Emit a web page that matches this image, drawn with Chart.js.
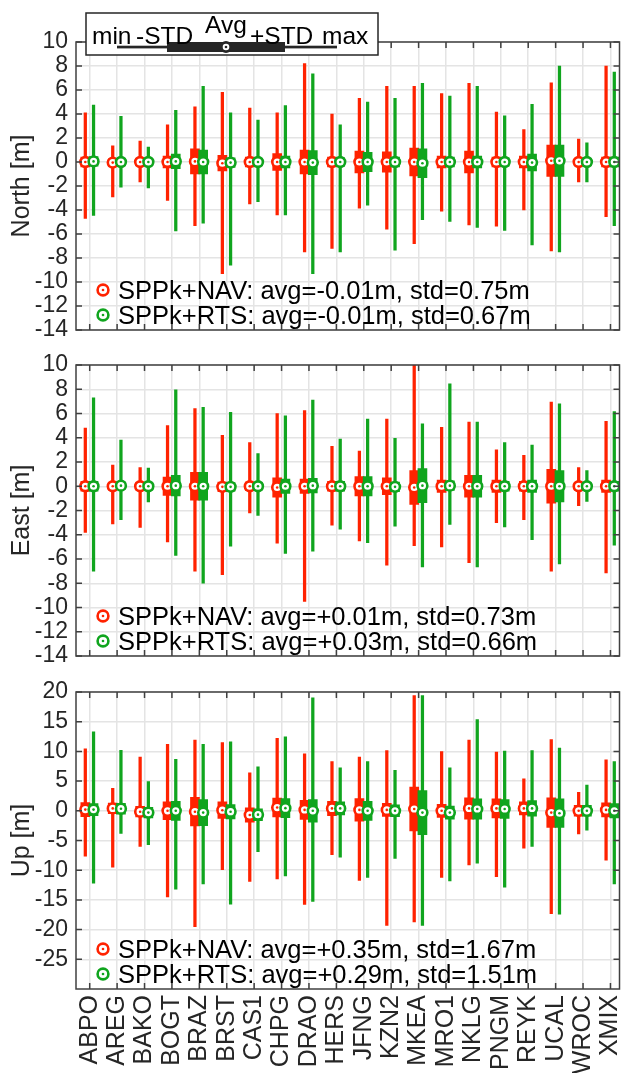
<!DOCTYPE html>
<html>
<head>
<meta charset="utf-8">
<script src="https://cdn.jsdelivr.net/npm/chart.js@4/dist/chart.umd.min.js"></script>
<style>
  html, body { margin: 0; padding: 0; background: #fff; width: 627px; height: 1073px; overflow: hidden; }
  canvas { position: absolute; left: 0; }
</style>
</head>
<body>
<canvas id="north" width="627" height="350" style="top:0px"></canvas>
<canvas id="east" width="627" height="331" style="top:345px"></canvas>
<canvas id="up" width="627" height="401" style="top:672px"></canvas>
<script>
// stations along the x axis
var stations = ['ABPO', 'AREG', 'BAKO', 'BOGT', 'BRAZ', 'BRST', 'CAS1', 'CHPG', 'DRAO', 'HERS',
                'JFNG', 'KZN2', 'MKEA', 'MRO1', 'NKLG', 'PNGM', 'REYK', 'UCAL', 'WROC', 'XMIX'];

// North [m]
var northNavMin = [-4.7, -2.9, -1.65, -3.2, -5.3, -9.3, -3.5, -4.4, -7.5, -7.2, -3.85, -5.6, -6.8, -4.1, -5.25, -5.35, -4.0, -7.4, -1.65, -4.55];
var northNavMax = [4.1, 1.35, 1.75, 3.1, 4.6, 5.8, 4.5, 4.1, 8.2, 4.0, 5.3, 6.3, 6.3, 5.7, 6.55, 4.15, 2.7, 6.6, 1.9, 8.0];
var northNavAvg = [0, -0.05, 0, 0, 0.05, -0.1, 0, 0, 0, 0, 0, 0, 0, 0, 0, 0, 0, 0.1, 0, 0];
var northNavStd = [0.4, 0.3, 0.3, 0.5, 1.05, 0.65, 0.4, 0.7, 1.0, 0.4, 0.9, 0.85, 1.15, 0.5, 0.9, 0.4, 0.5, 1.3, 0.3, 0.4];
var northRtsMin = [-4.45, -2.1, -2.15, -5.75, -5.1, -8.6, -3.3, -4.4, -9.3, -7.5, -3.6, -7.35, -4.8, -4.95, -5.45, -5.7, -6.9, -7.5, -1.65, -5.3];
var northRtsMax = [4.75, 3.8, 1.25, 4.3, 6.3, 4.1, 3.5, 4.7, 7.35, 3.1, 5.0, 5.3, 6.55, 5.5, 6.3, 3.85, 4.8, 8.0, 1.6, 7.5];
var northRtsAvg = [0.05, 0, 0, 0.05, 0, -0.05, 0, 0, -0.05, 0, 0, 0, -0.1, 0, 0, 0, -0.05, 0.1, 0, 0];
var northRtsStd = [0.4, 0.3, 0.3, 0.6, 1.0, 0.4, 0.3, 0.5, 1.0, 0.35, 0.8, 0.4, 1.2, 0.4, 0.5, 0.35, 0.7, 1.3, 0.3, 0.4];

// East [m]
var eastNavMin = [-3.8, -3.1, -3.4, -4.6, -7.0, -7.3, -2.2, -4.7, -9.5, -3.2, -4.5, -6.5, -4.9, -5.0, -6.3, -3.0, -2.75, -7.0, -1.6, -7.15];
var eastNavMax = [4.8, 1.75, 1.55, 5.0, 6.4, 4.2, 3.6, 6.0, 6.25, 3.3, 2.9, 5.55, 10.0, 4.85, 5.3, 3.0, 2.55, 6.95, 1.55, 5.35];
var eastNavAvg = [0, 0, 0, 0, 0, -0.05, 0, -0.1, 0, 0, 0, 0, -0.1, 0, 0, 0, 0, 0, 0, 0];
var eastNavStd = [0.4, 0.3, 0.3, 0.75, 1.15, 0.4, 0.35, 0.8, 0.6, 0.4, 0.8, 0.7, 1.4, 0.5, 0.9, 0.5, 0.4, 1.4, 0.3, 0.5];
var eastRtsMin = [-7.0, -2.75, -1.3, -5.7, -8.0, -4.95, -2.4, -5.55, -5.35, -3.55, -4.65, -3.3, -6.65, -3.15, -6.65, -3.35, -4.4, -6.4, -1.25, -4.85];
var eastRtsMax = [7.3, 3.8, 1.5, 7.95, 6.5, 6.1, 2.7, 5.8, 7.1, 3.9, 5.55, 3.95, 5.15, 8.45, 5.3, 3.6, 3.4, 6.8, 1.3, 6.15];
var eastRtsAvg = [0, 0.05, 0, 0.05, 0, -0.05, 0, 0, 0.05, 0, 0, -0.05, 0.05, 0.05, 0, 0, 0, 0, 0, 0];
var eastRtsStd = [0.4, 0.3, 0.3, 0.85, 1.15, 0.35, 0.3, 0.6, 0.6, 0.4, 0.8, 0.4, 1.4, 0.4, 0.9, 0.4, 0.5, 1.3, 0.3, 0.4];

// Up [m]
var upNavMin = [-7.65, -9.5, -6.0, -14.5, -19.5, -9.9, -11.9, -11.45, -15.75, -7.4, -11.7, -19.3, -18.7, -11.2, -9.1, -11.1, -6.3, -17.3, -3.9, -8.3];
var upNavMax = [10.45, 3.8, 9.05, 11.2, 11.9, 11.5, 6.4, 12.2, 9.6, 8.3, 9.05, 10.15, 19.4, 9.95, 11.9, 9.9, 5.4, 12.0, 3.1, 8.6];
var upNavAvg = [0.2, 0.4, -0.15, 0, -0.15, 0.1, -0.7, 0.55, 0.15, 0.4, 0.15, 0.15, 0.3, 0, 0.4, 0.4, 0.4, -0.3, 0, 0.15];
var upNavStd = [1.2, 0.9, 0.9, 1.5, 2.4, 1.4, 1.2, 1.6, 1.6, 1.2, 1.9, 1.1, 3.7, 1.1, 1.8, 1.6, 1.1, 2.5, 0.9, 1.2];
var upRtsMin = [-12.2, -3.8, -5.7, -13.2, -12.3, -15.7, -6.9, -10.95, -15.25, -7.8, -11.2, -8.0, -19.3, -11.8, -8.8, -12.85, -6.0, -17.4, -3.25, -12.3];
var upRtsMax = [13.3, 10.2, 4.9, 8.65, 11.2, 11.6, 7.4, 12.45, 19.0, 7.25, 8.3, 6.8, 19.4, 7.25, 15.35, 10.05, 10.15, 10.55, 4.35, 8.3];
var upRtsAvg = [0.2, 0.35, -0.3, 0, -0.3, -0.15, -0.65, 0.45, 0, 0.4, 0, 0, -0.3, -0.3, 0.3, 0.3, 0.4, -0.4, 0, 0];
var upRtsStd = [1.0, 0.9, 0.9, 1.6, 2.2, 1.2, 1.0, 1.6, 1.9, 1.1, 1.6, 1.0, 3.7, 1.1, 1.7, 1.6, 1.3, 2.4, 0.9, 1.2];

// y tick values
var enTicks = [-14, -12, -10, -8, -6, -4, -2, 0, 2, 4, 6, 8, 10];
var upTicks = [-25, -20, -15, -10, -5, 0, 5, 10, 15, 20];

// overall statistics shown in each panel
var northSummary = ['SPPk+NAV: avg=-0.01m, std=0.75m', 'SPPk+RTS: avg=-0.01m, std=0.67m'];
var eastSummary = ['SPPk+NAV: avg=+0.01m, std=0.73m', 'SPPk+RTS: avg=+0.03m, std=0.66m'];
var upSummary = ['SPPk+NAV: avg=+0.35m, std=1.67m', 'SPPk+RTS: avg=+0.29m, std=1.51m'];

var RED = '#ff2200';
var GREEN = '#10a51e';
var INK = '#262626';
var FONT = "'Liberation Sans', Arial, sans-serif";
var X_MIN = 0.5, X_MAX = 20.33;

Chart.defaults.font.family = FONT;
Chart.defaults.color = INK;

function marker(ctx, x, y, color, r) {
    ctx.beginPath();
    ctx.arc(x, y, r, 0, 2 * Math.PI);
    ctx.fillStyle = '#fff';
    ctx.fill();
    ctx.lineWidth = 2.6;
    ctx.strokeStyle = color;
    ctx.stroke();
    ctx.beginPath();
    ctx.arc(x, y, 1.3, 0, 2 * Math.PI);
    ctx.fillStyle = color;
    ctx.fill();
}

// the "min -STD Avg +STD max" key above the first panel
function drawKey(ctx) {
    ctx.fillStyle = '#fff';
    ctx.fillRect(86, 13, 292, 42);
    ctx.strokeStyle = INK;
    ctx.lineWidth = 1.5;
    ctx.strokeRect(86, 13, 292, 42);
    ctx.fillStyle = INK;
    ctx.fillRect(117, 45.7, 220, 2.7);
    ctx.fillRect(167, 42, 118, 10);
    marker(ctx, 226, 47, INK, 4.6);
    ctx.fillStyle = '#000';
    ctx.font = '24.5px ' + FONT;
    ctx.textAlign = 'left';
    ctx.textBaseline = 'alphabetic';
    ctx.fillText('min', 92, 44);
    ctx.fillText('-STD', 136, 44);
    ctx.fillText('Avg', 205, 33);
    ctx.fillText('+STD', 250, 44);
    ctx.fillText('max', 322, 44);
}

var framePlugin = {
    id: 'frame',
    afterDatasetsDraw: function (chart, args, opts) {
        var ctx = chart.ctx, a = chart.chartArea;
        var xs = chart.scales.x, ys = chart.scales.y;
        ctx.save();
        ctx.strokeStyle = '#404040';
        ctx.lineWidth = 1.5;
        ctx.beginPath();
        xs.ticks.forEach(function (t) {
            var px = xs.getPixelForValue(t.value);
            ctx.moveTo(px, a.top); ctx.lineTo(px, a.top + 6);
            ctx.moveTo(px, a.bottom); ctx.lineTo(px, a.bottom - 6);
        });
        ys.ticks.forEach(function (t) {
            var py = ys.getPixelForValue(t.value);
            ctx.moveTo(a.left, py); ctx.lineTo(a.left + 6, py);
            ctx.moveTo(a.right, py); ctx.lineTo(a.right - 6, py);
        });
        ctx.stroke();
        ctx.strokeRect(a.left, a.top, a.right - a.left, a.bottom - a.top);

        ctx.font = '25.5px ' + FONT;
        ctx.textAlign = 'left';
        ctx.textBaseline = 'alphabetic';
        [RED, GREEN].forEach(function (c, k) {
            var base = a.bottom - 31.5 + k * 25;
            marker(ctx, a.left + 27, base - 8.5, c, 5.4);
            ctx.fillStyle = '#000';
            ctx.fillText(opts.lines[k], a.left + 42, base);
        });
        if (opts.key) drawKey(ctx);
        ctx.restore();
    }
};

function series(color, axis, offset, mins, maxs, avgs, stds, order) {
    var at = function (i) { return i + 1 + offset; };
    return [
        {
            type: 'bar', xAxisID: axis, order: order + 3, grouped: false,
            barThickness: 2.6, maxBarThickness: 2.6, backgroundColor: color,
            data: stations.map(function (s, i) { return { x: at(i), y: [mins[i], maxs[i]] }; })
        },
        {
            type: 'bar', xAxisID: axis, order: order + 2, grouped: false,
            barThickness: 9, maxBarThickness: 9, backgroundColor: color,
            data: stations.map(function (s, i) { return { x: at(i), y: [avgs[i] - stds[i], avgs[i] + stds[i]] }; })
        },
        {
            type: 'scatter', xAxisID: axis, order: order + 1,
            pointRadius: 4.9, pointBorderWidth: 2.6, pointBackgroundColor: '#fff', pointBorderColor: color,
            data: stations.map(function (s, i) { return { x: at(i), y: avgs[i] }; })
        },
        {
            type: 'scatter', xAxisID: axis, order: order,
            pointRadius: 1.3, pointBorderWidth: 0, pointBackgroundColor: color,
            data: stations.map(function (s, i) { return { x: at(i), y: avgs[i] }; })
        }
    ];
}

function stationTicks(s) {
    s.min = X_MIN;
    s.max = X_MAX;
    s.ticks = stations.map(function (n, i) { return { value: i + 1 }; });
}

function panel(id, p) {
    var showLabels = !!p.labels;
    return new Chart(document.getElementById(id), {
        type: 'bar',
        data: {
            datasets: series(RED, 'x', -0.16, p.nav[0], p.nav[1], p.nav[2], p.nav[3], 10)
                .concat(series(GREEN, 'xg', 0.14, p.rts[0], p.rts[1], p.rts[2], p.rts[3], 0))
        },
        options: {
            responsive: false,
            animation: false,
            events: [],
            layout: { padding: { top: p.padTop, bottom: p.padBottom, left: 0, right: 4 } },
            plugins: {
                legend: { display: false },
                tooltip: { enabled: false },
                frame: { lines: p.summary, key: !!p.key }
            },
            scales: {
                x: {
                    type: 'linear', min: X_MIN, max: X_MAX, position: 'bottom', offset: false, bounds: 'data',
                    afterBuildTicks: stationTicks,
                    afterFit: function (s) {
                        s.height = p.xHeight; s.paddingLeft = 0; s.paddingRight = 0;
                    },
                    grid: { color: '#e4e4e4', lineWidth: 1.5, drawTicks: false, offset: false },
                    border: { display: false },
                    ticks: {
                        display: showLabels, autoSkip: false, minRotation: 90, maxRotation: 90, padding: 6,
                        font: { size: 25 }, color: INK,
                        callback: function (v) { return stations[v - 1]; }
                    }
                },
                xg: {
                    type: 'linear', min: X_MIN, max: X_MAX, position: 'bottom', offset: false, bounds: 'data',
                    display: false, afterBuildTicks: stationTicks,
                    grid: { offset: false }
                },
                y: {
                    min: p.yMin, max: p.yMax,
                    afterBuildTicks: function (s) {
                        s.ticks = p.ticks.map(function (v) { return { value: v }; });
                    },
                    afterFit: function (s) {
                        s.width = 76; s.paddingTop = 0; s.paddingBottom = 0;
                    },
                    grid: { color: '#e4e4e4', lineWidth: 1.5, drawTicks: false },
                    border: { display: false },
                    ticks: { font: { size: 23 }, color: INK, padding: 8, autoSkip: false },
                    title: { display: true, text: p.title, font: { size: 25 }, color: INK, padding: { top: 7, bottom: 0 } }
                }
            }
        },
        plugins: [framePlugin]
    });
}

panel('north', {
    title: 'North [m]', yMin: -14, yMax: 10, ticks: enTicks, summary: northSummary, key: true,
    padTop: 42, padBottom: 20, xHeight: 0,
    nav: [northNavMin, northNavMax, northNavAvg, northNavStd],
    rts: [northRtsMin, northRtsMax, northRtsAvg, northRtsStd]
});
panel('east', {
    title: 'East [m]', yMin: -14, yMax: 10, ticks: enTicks, summary: eastSummary,
    padTop: 20, padBottom: 20, xHeight: 0,
    nav: [eastNavMin, eastNavMax, eastNavAvg, eastNavStd],
    rts: [eastRtsMin, eastRtsMax, eastRtsAvg, eastRtsStd]
});
panel('up', {
    title: 'Up [m]', yMin: -30, yMax: 20, ticks: upTicks, summary: upSummary, labels: true,
    padTop: 20, padBottom: 0, xHeight: 84,
    nav: [upNavMin, upNavMax, upNavAvg, upNavStd],
    rts: [upRtsMin, upRtsMax, upRtsAvg, upRtsStd]
});
</script>
</body>
</html>
